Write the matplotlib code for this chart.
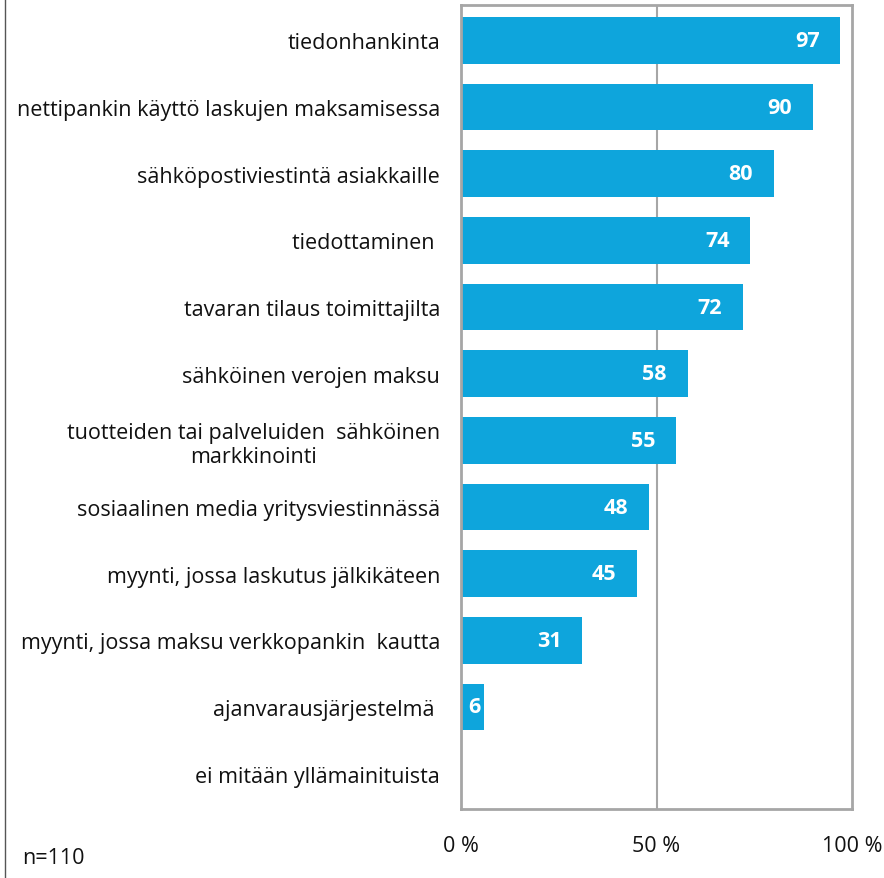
import matplotlib.pyplot as plt
from matplotlib.lines import Line2D

plt.rcParams['font.family'] = ['Open Sans', 'DejaVu Sans']

categories = [
    "tiedonhankinta",
    "nettipankin käyttö laskujen maksamisessa",
    "sähköpostiviestintä asiakkaille",
    "tiedottaminen ",
    "tavaran tilaus toimittajilta",
    "sähköinen verojen maksu",
    "tuotteiden tai palveluiden  sähköinen\nmarkkinointi",
    "sosiaalinen media yritysviestinnässä",
    "myynti, jossa laskutus jälkikäteen",
    "myynti, jossa maksu verkkopankin  kautta",
    "ajanvarausjärjestelmä ",
    "ei mitään yllämainituista",
]
values = [97, 90, 80, 74, 72, 58, 55, 48, 45, 31, 6, 0]
ticks = [0, 50, 100]
tick_labels = ["0 %", "50 %", "100 %"]

blue = "#0ea5dc"
gray = "#a6a6a6"
fs = 15.5

fig = plt.figure(figsize=(8.84, 8.79), dpi=100)
ax = fig.add_axes([461 / 884, 1 - 810 / 879, 391 / 884, 804 / 879])

ypos = list(range(len(categories)))
ax.barh(ypos, values, height=0.7, color=blue, zorder=2)
ax.set_xlim(0, 100)
# bars sit slightly low in the frame
ax.set_ylim(len(categories) - 0.47, -0.53)

ax.set_yticks(ypos)
ax.set_yticklabels(categories, fontsize=fs, color="#111111", multialignment="center")
ax.set_xticks(ticks)
ax.set_xticklabels(tick_labels, fontsize=fs, color="#111111")
ax.tick_params(axis="y", length=0, pad=15)
ax.tick_params(axis="x", length=0, pad=19)

ax.axvline(50, color=gray, lw=1.5, zorder=1)
for s in ax.spines.values():
    s.set_color(gray)
    s.set_linewidth(2)

for y, v in zip(ypos, values):
    if v == 0:
        continue
    if v < 15:
        ax.text(v / 2 + 0.4, y, str(v), color="white", fontsize=fs, fontweight="bold",
                ha="center", va="center", zorder=3)
    else:
        ax.annotate(str(v), (v, y), xytext=(-15, 0), textcoords="offset points",
                    color="white", fontsize=fs, fontweight="bold",
                    ha="right", va="center", zorder=3)

fig.text(22 / 884, 1 - 859 / 879, "n=110", fontsize=fs, color="#111111", va="center")
fig.add_artist(Line2D([5 / 884, 5 / 884], [0, 1], transform=fig.transFigure,
                      color="#555555", lw=1))

fig.savefig("out.png", dpi=100)
